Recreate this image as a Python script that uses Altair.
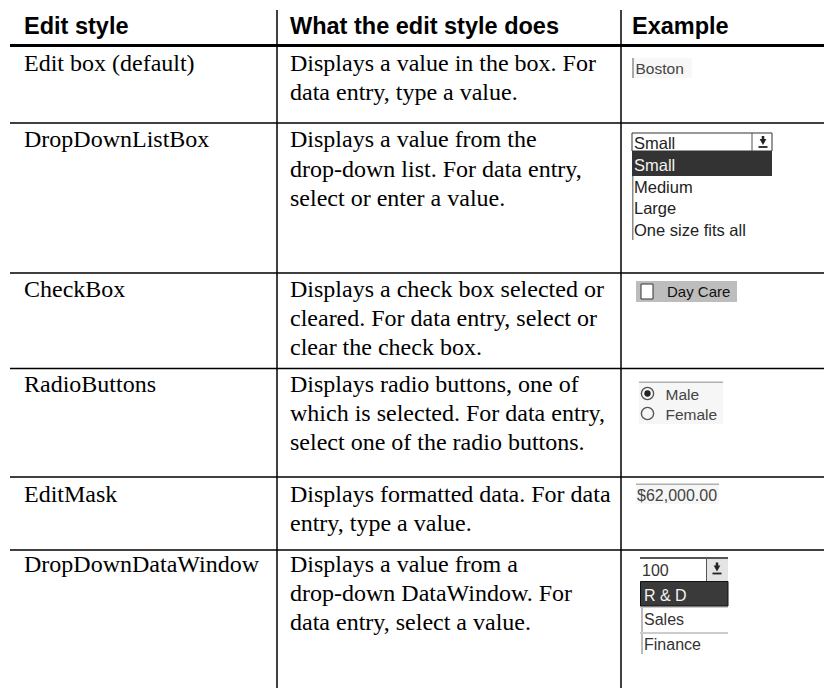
import altair as alt
import pandas as pd

# ---------------- table content ----------------
headers = ["Edit style", "What the edit style does", "Example"]
header_x = [24, 290, 632]
header_baseline = 34

edit_styles = ["Edit box (default)", "DropDownListBox", "CheckBox",
               "RadioButtons", "EditMask", "DropDownDataWindow"]
descriptions = [
    ["Displays a value in the box. For", "data entry, type a value."],
    ["Displays a value from the", "drop-down list. For data entry,", "select or enter a value."],
    ["Displays a check box selected or", "cleared. For data entry, select or", "clear the check box."],
    ["Displays radio buttons, one of", "which is selected. For data entry,", "select one of the radio buttons."],
    ["Displays formatted data. For data", "entry, type a value."],
    ["Displays a value from a", "drop-down DataWindow. For", "data entry, select a value."],
]
desc_baselines = [[71, 100], [147, 176.5, 205.5], [297, 325.5, 355],
                  [392, 420.5, 450], [502, 530.5], [572, 601, 630]]
col1_x, col2_x = 24, 290

# grid
header_rule_y = 45.5
row_rule_y = [123, 273, 368.5, 477, 550]
col_rule_x = [277, 621]
grid_left, grid_right, grid_top, grid_bottom = 10, 824, 10, 688

# example widgets (page pixel boxes)
rect_x  = [633, 632, 632, 632, 636, 639, 639, 636, 636, 640, 707, 641, 641, 640, 640]
rect_x2 = [692, 634, 772, 633.5, 737, 723, 723, 719, 719, 728, 728, 643, 643, 728, 728]
rect_y  = [58, 58, 151, 176, 281, 382, 381.5, 484, 483.5, 557, 559, 607, 633, 606.5, 632]
rect_y2 = [78, 78, 176, 240, 302, 424, 383, 504, 485, 559, 581, 632, 654, 608, 634]
rect_fill = ["#f7f7f7", "#aaaaaa", "#333333", "#8a8a8a", "#bdbdbd", "#f6f6f6", "#b0b0b0",
             "#f6f6f6", "#b0b0b0", "#555555", "#e4e4e4", "#bbbbbb", "#bbbbbb", "#cccccc", "#cccccc"]

box_x  = [632, 641, 640.5]
box_x2 = [772, 653, 728]
box_y  = [133, 284, 581.5]
box_y2 = [151, 299, 606]
box_fill = ["#ffffff", "#ffffff", "#3a3a3a"]
box_stroke = ["#333333", "#333333", "#111111"]

divider_x  = [752, 706.5]
divider_y  = [133, 559]
divider_y2 = [151, 581]

widget_text = ["Boston", "Small", "Small", "Medium", "Large", "One size fits all",
               "Day Care", "Male", "Female", "$62,000.00", "100", "R & D", "Sales", "Finance"]
widget_tx = [635.5, 634, 634, 634, 634, 634, 667, 665.5, 665.5, 637, 642, 644, 644, 644]
widget_ty = [74, 148.5, 170.5, 192.5, 214, 236, 297, 399.5, 419.5, 501, 576, 601, 625, 650]
widget_size = [15.5, 16.5, 16.5, 16.5, 16.5, 16.5, 15, 15.5, 15.5, 16, 16, 16, 16, 16]
widget_color = ["#444444", "#222222", "#f2f2f2", "#222222", "#222222", "#222222",
                "#111111", "#444444", "#444444", "#444444", "#333333", "#f2f2f2", "#333333", "#333333"]

radio_cx = [647.5, 647.5]
radio_cy = [393.5, 413.5]
radio_dot = [True, False]

arrow_x = [763, 717]
arrow_y = [142, 568.5]
arrow_stem_y = [136, 562.5]
arrow_bar_y = [147, 573.5]

# ---------------- scales ----------------
xs = alt.Scale(domain=[8, 824], nice=False, zero=False)
ys = alt.Scale(domain=[8, 688], reverse=True, nice=False, zero=False)
X = lambda f: alt.X(f, type="quantitative", scale=xs, axis=None)
Y = lambda f: alt.Y(f, type="quantitative", scale=ys, axis=None)

# ---------------- data frames ----------------
rects = pd.DataFrame(dict(x=rect_x, x2=rect_x2, y=rect_y, y2=rect_y2, fill=rect_fill))
boxes = pd.DataFrame(dict(x=box_x, x2=box_x2, y=box_y, y2=box_y2, fill=box_fill, stroke=box_stroke))
hrules = pd.DataFrame(dict(y=[header_rule_y] + row_rule_y,
                           w=[3] + [1.5] * len(row_rule_y)))
hrules["x"] = grid_left
hrules["x2"] = grid_right
vrules = pd.DataFrame(dict(x=col_rule_x, y=grid_top, y2=grid_bottom))
dividers = pd.DataFrame(dict(x=divider_x, y=divider_y, y2=divider_y2))

head_df = pd.DataFrame(dict(t=headers, x=header_x, y=header_baseline))
body_rows = []
for i, style in enumerate(edit_styles):
    body_rows.append(dict(t=style, x=col1_x, y=desc_baselines[i][0]))
    for line, b in zip(descriptions[i], desc_baselines[i]):
        body_rows.append(dict(t=line, x=col2_x, y=b))
body_df = pd.DataFrame(body_rows)
wtext_df = pd.DataFrame(dict(t=widget_text, x=widget_tx, y=widget_ty, s=widget_size, c=widget_color))

radio_df = pd.DataFrame(dict(x=radio_cx, y=radio_cy, dot=radio_dot))
arrow_df = pd.DataFrame(dict(x=arrow_x, y=arrow_y, ys=arrow_stem_y, yb=arrow_bar_y))
arrow_df["xl"] = arrow_df["x"] - 4.5
arrow_df["xr"] = arrow_df["x"] + 4.5

# ---------------- layers ----------------
rect_layer = alt.Chart(rects).mark_rect().encode(
    x=X("x"), x2="x2", y=Y("y"), y2="y2", color=alt.Color("fill:N", scale=None))

box_layer = alt.Chart(boxes).mark_rect(strokeWidth=1).encode(
    x=X("x"), x2="x2", y=Y("y"), y2="y2",
    color=alt.Color("fill:N", scale=None), stroke=alt.Stroke("stroke:N", scale=None))

divider_layer = alt.Chart(dividers).mark_rule(color="#555555", strokeWidth=1).encode(
    x=X("x"), y=Y("y"), y2="y2")

arrow_tri = alt.Chart(arrow_df).mark_point(shape="triangle-down", filled=True, opacity=1,
                                           color="#222222", size=45).encode(x=X("x"), y=Y("y"))
arrow_stem = alt.Chart(arrow_df).mark_rule(color="#222222", strokeWidth=2.5).encode(
    x=X("x"), y=Y("ys"), y2="y")
arrow_bar = alt.Chart(arrow_df).mark_rule(color="#222222", strokeWidth=1.8).encode(
    x=X("xl"), x2="xr", y=Y("yb"))

radio_ring = alt.Chart(radio_df).mark_point(shape="circle", filled=False, opacity=1,
                                            strokeWidth=1.4, size=150, color="#555555").encode(
    x=X("x"), y=Y("y"))
radio_fill = alt.Chart(radio_df).transform_filter("datum.dot").mark_point(
    shape="circle", filled=True, opacity=1, size=40, color="#222222").encode(x=X("x"), y=Y("y"))

hrule_layer = alt.Chart(hrules).mark_rule(color="#000000").encode(
    x=X("x"), x2="x2", y=Y("y"), strokeWidth=alt.StrokeWidth("w:Q", scale=None))
vrule_layer = alt.Chart(vrules).mark_rule(color="#000000", strokeWidth=1.5).encode(
    x=X("x"), y=Y("y"), y2="y2")

head_layer = alt.Chart(head_df).mark_text(
    align="left", baseline="alphabetic", font="Liberation Sans", fontWeight="bold",
    fontSize=23.5, color="#000000").encode(x=X("x"), y=Y("y"), text="t:N")

body_layer = alt.Chart(body_df).mark_text(
    align="left", baseline="alphabetic", font="Liberation Serif",
    fontSize=24, color="#000000").encode(x=X("x"), y=Y("y"), text="t:N")

wtext_layer = alt.Chart(wtext_df).mark_text(
    align="left", baseline="alphabetic", font="Liberation Sans").encode(
    x=X("x"), y=Y("y"), text="t:N",
    size=alt.Size("s:Q", scale=None), color=alt.Color("c:N", scale=None))

chart = alt.layer(
    rect_layer, box_layer, divider_layer, arrow_stem, arrow_tri, arrow_bar,
    radio_ring, radio_fill, hrule_layer, vrule_layer, head_layer, body_layer, wtext_layer
).properties(
    width=816, height=680, padding=0, autosize=alt.AutoSizeParams(type="none"),
    background="#ffffff"
).configure_view(stroke=None)

chart.save("out.html", embed_options={"renderer": "svg", "actions": False})
